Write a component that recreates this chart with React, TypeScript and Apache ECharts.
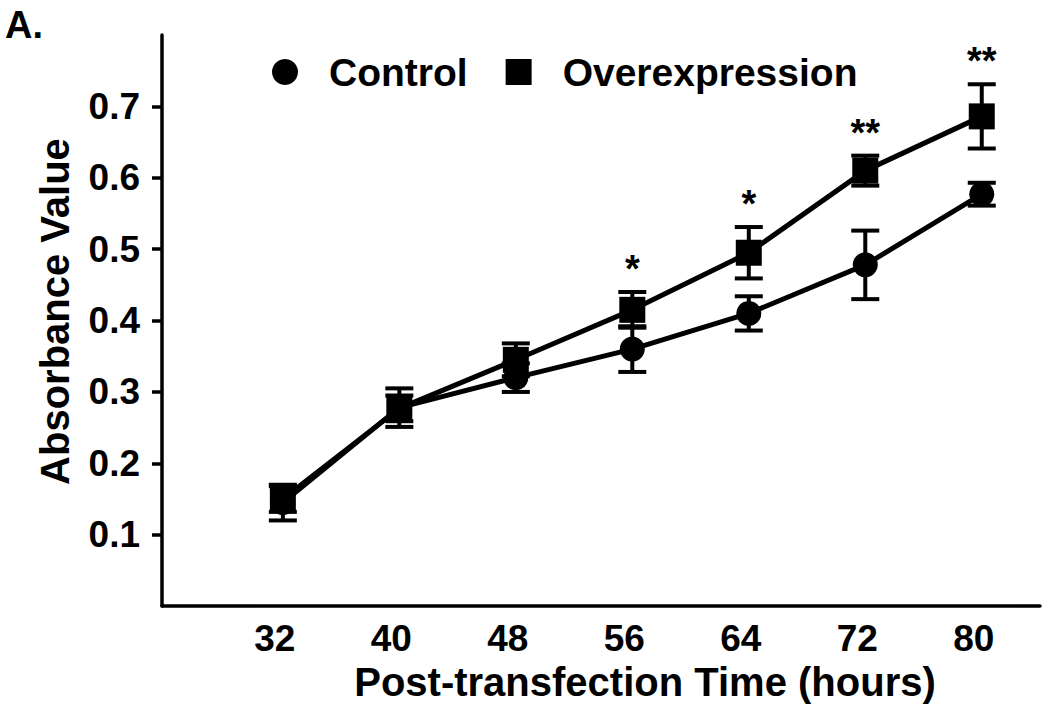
import React, { useEffect, useRef } from "react";
import * as echarts from "echarts";

const hours = [32, 40, 48, 56, 64, 72, 80];
const controlMean = [0.145, 0.278, 0.32, 0.36, 0.41, 0.478, 0.577];
const controlErr = [0.025, 0.027, 0.02, 0.032, 0.024, 0.048, 0.016];
const overMean = [0.15, 0.277, 0.345, 0.415, 0.495, 0.61, 0.686];
const overErr = [0.018, 0.018, 0.023, 0.025, 0.036, 0.021, 0.045];
const significance = ["", "", "", "*", "*", "**", "**"];
const yTicks = [0.1, 0.2, 0.3, 0.4, 0.5, 0.6, 0.7];

const FONT = '"Liberation Sans", Arial, Helvetica, sans-serif';

function errorSeries(name: string, means: number[], errs: number[], marks: string[] | null) {
  return {
    type: "custom",
    name: name + " error",
    z: 5,
    silent: true,
    encode: { x: 0, y: 1 },
    data: hours.map((h, i) => [h, means[i], errs[i]]),
    renderItem: (params: any, api: any) => {
      const x = api.value(0);
      const m = api.value(1);
      const e = api.value(2);
      const top = api.coord([x, m + e]);
      const bot = api.coord([x, m - e]);
      const hw = 14;
      const style = { stroke: "#000", lineWidth: 4 };
      const children: any[] = [
        { type: "line", shape: { x1: top[0], y1: top[1], x2: bot[0], y2: bot[1] }, style },
        { type: "line", shape: { x1: top[0] - hw, y1: top[1], x2: top[0] + hw, y2: top[1] }, style },
        { type: "line", shape: { x1: bot[0] - hw, y1: bot[1], x2: bot[0] + hw, y2: bot[1] }, style },
      ];
      const sig = marks ? marks[params.dataIndex] : "";
      if (sig) {
        children.push({
          type: "text",
          x: top[0],
          y: top[1] - 23,
          style: {
            text: sig,
            fill: "#000",
            fontSize: 38,
            fontWeight: "bold",
            fontFamily: FONT,
            align: "center",
            verticalAlign: "middle",
          },
        });
      }
      return { type: "group", children };
    },
  };
}

export default function App() {
  const ref = useRef<HTMLDivElement>(null);
  useEffect(() => {
    document.body.style.margin = "0";
    const chart = echarts.init(ref.current!, null, { renderer: "svg" });
    chart.setOption({
      animation: false,
      backgroundColor: "#fff",
      textStyle: { fontFamily: FONT },
      title: {
        text: "A.",
        left: 5,
        top: 6,
        padding: 0,
        textStyle: {
          fontSize: 38,
          fontWeight: "bold",
          color: "#000",
          fontFamily: FONT,
        },
      },
      grid: { left: 162, right: 10, top: 35, bottom: 99 },
      legend: {
        left: 267,
        top: 45,
        itemWidth: 26,
        itemHeight: 26,
        itemGap: 38,
        data: [
          { name: "Control", icon: "circle" },
          { name: "Overexpression", icon: "rect" },
        ],
        textStyle: {
          fontSize: 39,
          fontWeight: "bold",
          color: "#000",
          fontFamily: FONT,
          lineHeight: 44,
          padding: [0, 0, 0, 26],
        },
      },
      xAxis: {
        type: "value",
        min: 23.7,
        max: 84,
        name: "Post-transfection Time (hours)",
        nameLocation: "middle",
        nameGap: 47,
        nameTextStyle: {
          fontSize: 40,
          fontWeight: "bold",
          color: "#000",
          fontFamily: FONT,
          padding: [0, 0, 0, 88],
        },
        axisLine: { show: true, lineStyle: { color: "#000", width: 3.5 } },
        axisTick: { show: false },
        splitLine: { show: false },
        axisLabel: {
          customValues: hours,
          fontSize: 37,
          fontWeight: "bold",
          color: "#000",
          fontFamily: FONT,
          margin: 14,
          padding: [0, 16, 0, 0],
        },
      },
      yAxis: {
        type: "value",
        min: 0,
        max: 0.8,
        name: "Absorbance Value",
        nameLocation: "middle",
        nameRotate: 90,
        nameGap: 87,
        nameTextStyle: {
          fontSize: 40,
          fontWeight: "bold",
          color: "#000",
          fontFamily: FONT,
          padding: [0, 0, 0, 18],
        },
        axisLine: { show: true, lineStyle: { color: "#000", width: 3.5 } },
        axisTick: {
          show: true,
          customValues: yTicks,
          length: 10,
          lineStyle: { color: "#000", width: 3.5 },
        },
        splitLine: { show: false },
        axisLabel: {
          customValues: yTicks,
          formatter: (v: number) => v.toFixed(1),
          fontSize: 37,
          fontWeight: "bold",
          color: "#000",
          fontFamily: FONT,
          margin: 22,
        },
      },
      series: [
        {
          type: "line",
          name: "Control",
          data: hours.map((h, i) => [h, controlMean[i]]),
          symbol: "circle",
          symbolSize: 25,
          lineStyle: { color: "#000", width: 5 },
          itemStyle: { color: "#000" },
          z: 3,
        },
        {
          type: "line",
          name: "Overexpression",
          data: hours.map((h, i) => [h, overMean[i]]),
          symbol: "rect",
          symbolSize: 26,
          lineStyle: { color: "#000", width: 5 },
          itemStyle: { color: "#000" },
          z: 3,
        },
        errorSeries("Control", controlMean, controlErr, null),
        errorSeries("Overexpression", overMean, overErr, significance),
      ],
    });
    return () => chart.dispose();
  }, []);
  return <div ref={ref} style={{ width: 1050, height: 707 }} />;
}
